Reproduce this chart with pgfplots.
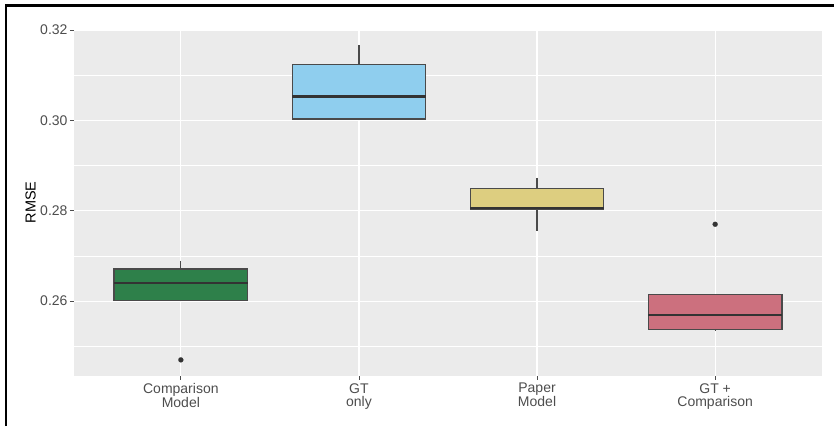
\documentclass[border=0pt]{standalone}
\usepackage{pgfplots}
\pgfplotsset{compat=1.18}
\usepgfplotslibrary{statistics}
\usepackage{fontspec}
\setmainfont{Liberation Sans}
\definecolor{panel}{HTML}{EBEBEB}
\definecolor{cgreen}{HTML}{2E804A}
\definecolor{cblue}{HTML}{8FCEEE}
\definecolor{cyellow}{HTML}{DDCE80}
\definecolor{cpink}{HTML}{CC707E}
\definecolor{boxline}{HTML}{4A4A4A}
\definecolor{dark}{HTML}{333333}
\definecolor{ticklab}{HTML}{4D4D4D}
\begin{document}
\begin{tikzpicture}
\path[use as bounding box] (0pt,0pt) rectangle (834pt,-426pt);
\draw[black, line width=2.2pt] (6pt,-426pt) -- (6pt,-5.5pt) -- (834pt,-5.5pt);
\begin{axis}[
  at={(74pt,-375.7pt)}, anchor=south west,
  scale only axis, width=748pt, height=346.7pt,
  xmin=0.4, xmax=4.6, ymin=0.2435, ymax=0.3202,
  axis background/.style={fill=panel},
  axis line style={draw=none},
  xtick={1,2,3,4},
  xticklabels={{Comparison\\Model},{GT\\only},{Paper\\Model},{GT +\\Comparison}},
  ytick={0.26,0.28,0.30,0.32},
  yticklabels={0.26,0.28,0.30,0.32},
  minor ytick={0.25,0.27,0.29,0.31},
  minor tick length=0pt,
  major tick length=4pt,
  tick align=outside,
  tick style={ticklab, line width=0.8pt},
  xtick pos=bottom, ytick pos=left,
  xmajorgrids, ymajorgrids, yminorgrids,
  major grid style={white, line width=1.2pt},
  minor grid style={white, line width=0.6pt},
  x tick label style={font=\fontsize{14}{13.9}\selectfont, text=ticklab, align=center, yshift=0pt},
  y tick label style={font=\fontsize{14}{14}\selectfont, text=ticklab, xshift=1pt},
  ylabel={RMSE},
  ylabel style={font=\fontsize{14.5}{15}\selectfont, at={(axis description cs:0,0.5)}, anchor=center, yshift=43.3pt},
  boxplot/draw direction=y,
  boxplot/box extend=0.75,
  boxplot/whisker extend=0,
  boxplot/every median/.style={draw=dark, line width=2.6pt},
  boxplot/every whisker/.style={draw=boxline, line width=1.2pt},
  boxplot/every box/.style={draw=boxline, line width=1.2pt},
  clip=false,
]
\addplot[boxplot prepared={draw position=1, lower whisker=0.2600, lower quartile=0.2602, median=0.2640, upper quartile=0.2671, upper whisker=0.2689},
  fill=cgreen, draw=boxline, mark=*, mark size=2.5pt, mark options={fill=dark, draw=dark, line width=0.2pt}]
  table[row sep=\\, y index=0] {y\\ 0.2470\\};
\addplot[boxplot prepared={draw position=2, lower whisker=0.3003, lower quartile=0.3003, median=0.3053, upper quartile=0.3123, upper whisker=0.3167},
  fill=cblue, draw=boxline] coordinates {};
\addplot[boxplot prepared={draw position=3, lower whisker=0.2755, lower quartile=0.2803, median=0.2806, upper quartile=0.2849, upper whisker=0.2873},
  fill=cyellow, draw=boxline] coordinates {};
\addplot[boxplot prepared={draw position=4, lower whisker=0.2535, lower quartile=0.2537, median=0.2569, upper quartile=0.2615, upper whisker=0.2615},
  fill=cpink, draw=boxline, mark=*, mark size=2.5pt, mark options={fill=dark, draw=dark, line width=0.2pt}]
  table[row sep=\\, y index=0] {y\\ 0.2770\\};
\end{axis}
\end{tikzpicture}
\end{document}
